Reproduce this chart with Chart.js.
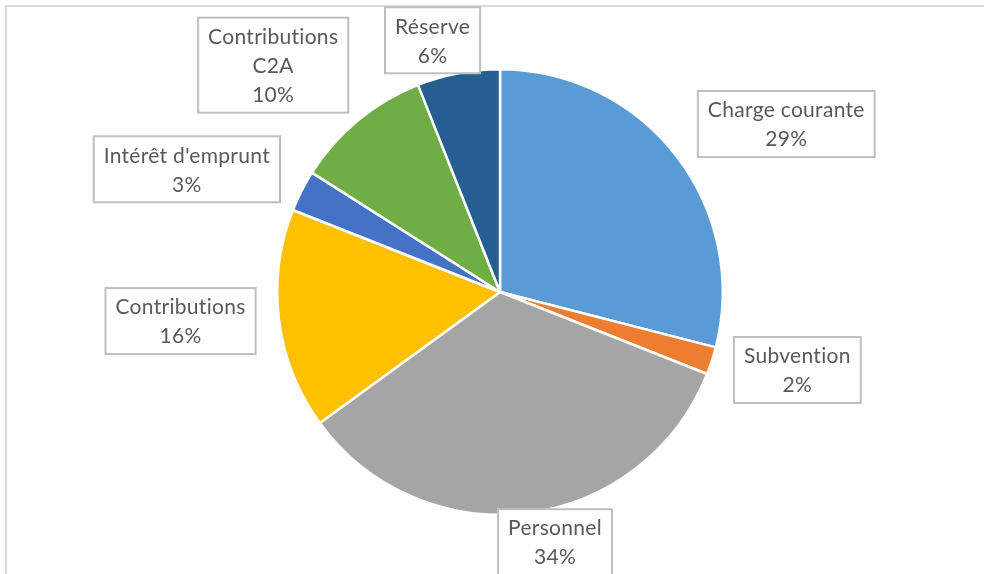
<!DOCTYPE html>
<html>
<head>
<meta charset="utf-8">
<script src="https://cdn.jsdelivr.net/npm/chart.js@4.4.0/dist/chart.umd.min.js"></script>
<style>
  html, body { margin: 0; padding: 0; background: #fff; overflow: hidden; }
  canvas { display: block; }
</style>
</head>
<body>
<canvas id="pie" width="984" height="574"></canvas>
<script>
// data
const categories = [
  "Charge courante",
  "Subvention",
  "Personnel",
  "Contributions",
  "Intérêt d'emprunt",
  "Contributions C2A",
  "Réserve",
];
const shares = [29, 2, 34, 16, 3, 10, 6];
const sliceColors = ["#5B9BD5", "#ED7D31", "#A5A5A5", "#FFC000", "#4472C4", "#70AD47", "#255E91"];

// label lines (Excel wraps "Contributions C2A" on two lines)
const labelLines = [
  ["Charge courante"],
  ["Subvention"],
  ["Personnel"],
  ["Contributions"],
  ["Intérêt d'emprunt"],
  ["Contributions", "C2A"],
  ["Réserve"],
];
// label placement: distance from centre in radii, and angle nudge in degrees
const labelDist = [1.49, 1.38, 1.15, 1.44, 1.51, 1.44, 1.17];
const labelNudge = [7.4, -3.3, -5.2, 2, -5.6, -5.4, -4.2];

const FONT = "21px Lato, 'Open Sans', sans-serif";
const LINE_H = 29;

const labelBoxes = {
  id: "labelBoxes",
  beforeDraw(chart) {
    const ctx = chart.ctx;
    ctx.save();
    ctx.fillStyle = "#fff";
    ctx.fillRect(0, 0, chart.width, chart.height);
    ctx.strokeStyle = "#d9d9d9";
    ctx.lineWidth = 2;
    ctx.strokeRect(6, 6, chart.width + 20, chart.height + 20);
    ctx.restore();
  },
  afterDatasetsDraw(chart) {
    const ctx = chart.ctx;
    const meta = chart.getDatasetMeta(0);
    const total = shares.reduce((a, b) => a + b, 0);
    ctx.save();
    ctx.font = FONT;
    ctx.letterSpacing = "0.3px";
    ctx.textAlign = "center";
    ctx.textBaseline = "middle";
    meta.data.forEach((arc, i) => {
      const { x, y, startAngle, endAngle, outerRadius } = arc.getProps(
        ["x", "y", "startAngle", "endAngle", "outerRadius"], true);
      const mid = (startAngle + endAngle) / 2 + labelNudge[i] * Math.PI / 180;
      const cx = x + Math.cos(mid) * outerRadius * labelDist[i];
      const cy = y + Math.sin(mid) * outerRadius * labelDist[i];
      const lines = labelLines[i].concat([Math.round(shares[i] / total * 100) + "%"]);
      const w = Math.max(...lines.map(l => ctx.measureText(l).width)) + 20;
      const h = lines.length * LINE_H + 8;
      ctx.fillStyle = "#fff";
      ctx.fillRect(cx - w / 2, cy - h / 2, w, h);
      ctx.strokeStyle = "#bfbfbf";
      ctx.lineWidth = 2;
      ctx.strokeRect(cx - w / 2, cy - h / 2, w, h);
      ctx.fillStyle = "#595959";
      lines.forEach((l, k) => {
        ctx.fillText(l, cx, cy - h / 2 + 4 + LINE_H * (k + 0.5) + 1);
      });
    });
    ctx.restore();
  },
};

new Chart(document.getElementById("pie").getContext("2d"), {
  type: "pie",
  data: {
    labels: categories,
    datasets: [
      {
        data: shares,
        backgroundColor: sliceColors,
        borderColor: "#fff",
        borderWidth: 2.5,
      },
    ],
  },
  options: {
    responsive: false,
    animation: false,
    layout: { padding: { top: 68, bottom: 58, left: 20, right: 4 } },
    plugins: {
      legend: { display: false },
      tooltip: { enabled: false },
    },
  },
  plugins: [labelBoxes],
});
</script>
</body>
</html>
